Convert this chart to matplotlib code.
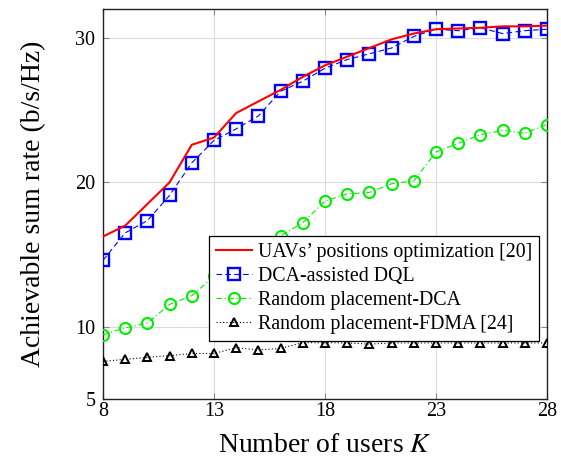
import matplotlib
matplotlib.use("Agg")
import matplotlib.pyplot as plt

plt.rcParams['font.family'] = ['Liberation Serif', 'DejaVu Serif']
plt.rcParams['mathtext.fontset'] = 'stix'

users = list(range(8, 29))
uav_opt = [16.25, 17.0, 18.5, 20.0, 22.6, 23.1, 24.8, 25.6, 26.4, 27.3, 28.1,
           28.7, 29.3, 29.9, 30.3, 30.6, 30.65, 30.7, 30.8, 30.8, 30.85]
dca_dql = [14.6, 16.5, 17.35, 19.1, 21.35, 22.9, 23.7, 24.6, 26.3, 27.0, 27.9,
           28.5, 28.9, 29.3, 30.1, 30.6, 30.5, 30.7, 30.3, 30.5, 30.6]
rand_dca = [9.45, 9.93, 10.25, 11.55, 12.15, 13.5, 14.6, 15.4, 16.3, 17.2, 18.7,
            19.2, 19.3, 19.9, 20.1, 22.1, 22.7, 23.3, 23.6, 23.4, 24.0]
rand_fdma = [7.6, 7.75, 7.88, 8.0, 8.15, 8.15, 8.55, 8.4, 8.5, 8.9, 8.9,
             8.88, 8.8, 8.88, 8.88, 8.88, 8.88, 8.88, 8.88, 8.88, 8.88]

labels = ['UAVs\u2019 positions optimization [20]', 'DCA-assisted DQL',
          'Random placement-DCA', 'Random placement-FDMA [24]']
xticks = [8, 13, 18, 23, 28]
yticks = [5, 10, 20, 30]

fig = plt.figure(figsize=(5.61, 4.62), dpi=100)
ax = fig.add_axes([0.1836, 0.1364, 0.7914, 0.8441])

ax.plot(users, uav_opt, color='red', lw=1.5, label=labels[0], zorder=5)
ax.plot(users, dca_dql, color='blue', lw=0.8, ls=(0, (5, 3)), marker='s',
        markersize=8, markerfacecolor='none', markeredgewidth=1.7,
        label=labels[1], zorder=4)
ax.plot(users, rand_dca, color='#00ee00', lw=0.8, ls=(0, (5, 2.5, 1, 2.5)), marker='o',
        markersize=8, markerfacecolor='none', markeredgewidth=1.5,
        label=labels[2], zorder=3)
ax.plot(users, rand_fdma, color='black', lw=0.8, ls=(0, (1, 2)), marker='^',
        markersize=6, markerfacecolor='none', markeredgewidth=1.4,
        label=labels[3], zorder=3)

ax.set_xlim(8, 28)
ax.set_ylim(5, 32)
ax.set_xticks(xticks)
ax.set_yticks(yticks)
ax.grid(True, color='#dcdcdc', lw=0.8)
ax.set_axisbelow(True)
ax.tick_params(direction='in', length=4, color='#888888', labelsize=14.5,
               top=True, right=True)
ax.tick_params(axis='y', pad=5.5)
ax.tick_params(axis='x', pad=2.5)
for s in ax.spines.values():
    s.set_linewidth(1.0)
    s.set_color('#222222')

ax.set_xlabel('Number of users $K$', fontsize=20, labelpad=8)
ax.set_ylabel('Achievable sum rate (b/s/Hz)', fontsize=20, labelpad=21)

leg = ax.legend(loc='lower left', bbox_to_anchor=(0.239, 0.149),
                fontsize=14.3, fancybox=False, framealpha=1,
                edgecolor='black', handlelength=1.8, borderpad=0.35,
                labelspacing=0.25, handletextpad=0.3, borderaxespad=0)
leg.get_frame().set_linewidth(0.9)
leg.set_zorder(10)

fig.savefig('out.png', dpi=100)
